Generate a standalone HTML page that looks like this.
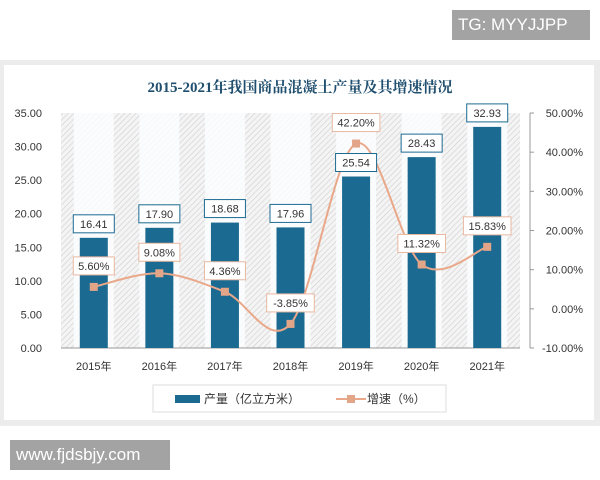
<!DOCTYPE html>
<html><head><meta charset="utf-8">
<style>
body{margin:0;width:600px;height:480px;background:#fff;overflow:hidden;font-family:"Liberation Sans","Noto Sans CJK SC",sans-serif;position:relative}
.wm{position:absolute;background:#a3a3a3;color:#fff;font-size:17px;line-height:30px;padding:0 6px}
</style></head><body>
<div class="wm" style="left:452px;top:10px;width:126px">TG: MYYJJPP</div>
<div class="wm" style="left:10px;top:440px;width:148px">www.fjdsbjy.com</div>
<svg id="chart" width="600" height="480" style="position:absolute;left:0;top:0">
<defs>
<pattern id="hatch" width="4" height="4" patternUnits="userSpaceOnUse" patternTransform="rotate(45)">
<rect width="4" height="4" fill="#f4f4f4"/><line x1="0" y1="0" x2="0" y2="4" stroke="#cfcfcf" stroke-width="1.2"/>
</pattern>
</defs>
<rect x="0" y="60" width="600" height="366" fill="#ececec"/>
<rect x="4" y="65" width="590" height="355" fill="#fff"/>
<text x="300" y="92" text-anchor="middle" font-family="'Liberation Serif','Noto Serif CJK SC',serif" font-weight="bold" font-size="15" fill="#1f4e6e">2015-2021年我国商品混凝土产量及其增速情况</text>
<g id="g"></g>
</svg>
<script>
const categories=["2015年","2016年","2017年","2018年","2019年","2020年","2021年"];
const output=[16.41,17.90,18.68,17.96,25.54,28.43,32.93];
const growth=[5.60,9.08,4.36,-3.85,42.20,11.32,15.83];
const leftTicks=[0,5,10,15,20,25,30,35];
const rightTicks=[-10,0,10,20,30,40,50];
const X0=61,X1=520,YT=113,YB=348;
const yL=v=>YB-(v-0)/(35-0)*(YB-YT);
const yR=v=>YB-(v+10)/(60)*(YB-YT);
const band=(X1-X0)/categories.length;
const xc=i=>X0+band*(i+0.5);
const g=document.getElementById('g');
const NS="http://www.w3.org/2000/svg";
function mk(t,a,p){const e=document.createElementNS(NS,t);for(const k in a)e.setAttribute(k,a[k]);(p||g).appendChild(e);return e;}
let e=mk('rect',{x:X0,y:YT,width:X1-X0,height:YB-YT,fill:'url(#hatch)'});


categories.forEach((c,i)=>{
 let s=mk('rect',{x:xc(i)-20,y:YT,width:40,height:YB-YT,fill:'#fbfdfe',opacity:0.85});
 
 
});
e=mk('line',{x1:X0,y1:YB,x2:X1,y2:YB,stroke:'#999'});


leftTicks.forEach(v=>{
 let t=mk('text',{x:42,y:yL(v)+4,'text-anchor':'end','font-size':11,fill:'#333'});t.textContent=v.toFixed(2);
 
 
});
e=mk('line',{x1:530,y1:YT,x2:530,y2:YB,stroke:'#999'});


rightTicks.forEach(v=>{
 let l=mk('line',{x1:530,y1:yR(v),x2:534,y2:yR(v),stroke:'#999'});
 
 
 let t=mk('text',{x:583,y:yR(v)+4,'text-anchor':'end','font-size':11,fill:'#333'});t.textContent=v.toFixed(2)+'%';
 
 
});
categories.forEach((c,i)=>{
 let b=mk('rect',{x:xc(i)-14,y:yL(output[i]),width:28,height:YB-yL(output[i]),fill:'#1b6a92'});
 
 
 let t=mk('text',{x:xc(i),y:370,'text-anchor':'middle','font-size':11,fill:'#333'});t.textContent=c;
 
 
});
// smooth line
const pts=growth.map((v,i)=>[xc(i),yR(v)]);
let d='M'+pts[0][0]+','+pts[0][1];
for(let i=0;i<pts.length-1;i++){
 const p0=pts[i-1]||pts[i],p1=pts[i],p2=pts[i+1],p3=pts[i+2]||p2;
 d+=' C'+(p1[0]+(p2[0]-p0[0])/6)+','+(p1[1]+(p2[1]-p0[1])/6)+' '+(p2[0]-(p3[0]-p1[0])/6)+','+(p2[1]-(p3[1]-p1[1])/6)+' '+p2[0]+','+p2[1];
}
e=mk('path',{d:d,fill:'none',stroke:'#e9a88a','stroke-width':2});


function label(x,y,txt,stroke,name){
 const w=txt.length*6.6+8;
 let r=mk('rect',{x:x-w/2,y:y-9,width:w,height:18,fill:'#fff',stroke:stroke,'stroke-width':1});
 
 
 let t=mk('text',{x:x,y:y+4,'text-anchor':'middle','font-size':11,fill:'#333'});t.textContent=txt;
 
 
}
pts.forEach((p,i)=>{
 let m=mk('rect',{x:p[0]-4,y:p[1]-4,width:8,height:8,fill:'#e3a587'});
 
 
});
categories.forEach((c,i)=>{
 label(xc(i),yL(output[i])-14,output[i].toFixed(2),'#1b6a92','bar-value-label');
 label(xc(i),yR(growth[i])-21,growth[i].toFixed(2)+'%','#e9b8a0','growth-value-label');
});
// legend
e=mk('rect',{x:153,y:385,width:293,height:27,fill:'#fff',stroke:'#ddd'});


e=mk('rect',{x:175,y:395,width:25,height:8,fill:'#1b6a92'});


let t=mk('text',{x:204,y:403,'font-size':12,fill:'#333'});t.textContent='产量（亿立方米）';


e=mk('line',{x1:336,y1:399,x2:366,y2:399,stroke:'#e9a88a','stroke-width':2});


e=mk('rect',{x:347,y:395,width:8,height:8,fill:'#e3a587'});


t=mk('text',{x:367,y:403,'font-size':12,fill:'#333'});t.textContent='增速（%）';


</script>
</body></html>
